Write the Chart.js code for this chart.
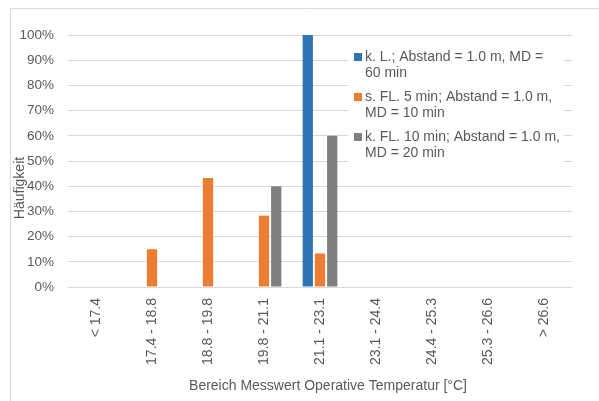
<!DOCTYPE html>
<html>
<head>
<meta charset="utf-8">
<script src="https://cdn.jsdelivr.net/npm/chart.js@4/dist/chart.umd.min.js"></script>
<style>
  html, body { margin: 0; padding: 0; background: #fff; }
  #wrap { position: relative; width: 599px; height: 401px; }
</style>
</head>
<body>
<div id="wrap"><canvas id="chart" width="599" height="401"></canvas></div>
<script>
// ===============================
// DATA
// ===============================
const categories = ['< 17.4', '17.4 - 18.8', '18.8 - 19.8', '19.8 - 21.1', '21.1 - 23.1',
                    '23.1 - 24.4', '24.4 - 25.3', '25.3 - 26.6', '> 26.6'];

const kLValues    = [0, 0, 0, 0, 100, 0, 0, 0, 0];
const sFL5Values  = [0, 15.0, 43.3, 28.3, 13.3, 0, 0, 0, 0];
const kFL10Values = [0, 0, 0, 40, 60, 0, 0, 0, 0];

// legend lines as wrapped in the original
const kLLabel    = ['k. L.; Abstand = 1.0 m, MD =', '60 min'];
const sFL5Label  = ['s. FL. 5 min; Abstand = 1.0 m,', 'MD = 10 min'];
const kFL10Label = ['k. FL. 10 min; Abstand = 1.0 m,', 'MD = 20 min'];

const yTicks = [0, 10, 20, 30, 40, 50, 60, 70, 80, 90, 100];

const xTitle = 'Bereich Messwert Operative Temperatur [°C]';
const yTitle = 'Häufigkeit';

const FONT = '"Liberation Sans", Arial, sans-serif';
const TEXT = '#595959';

// ===============================
// custom legend + axis titles + outer frame
// ===============================
const decoPlugin = {
    id: 'deco',
    beforeDraw(chart) {
        const ctx = chart.ctx;
        ctx.save();
        ctx.strokeStyle = '#d9d9d9';
        ctx.lineWidth = 1;
        ctx.beginPath();
        ctx.moveTo(10.5, 401);
        ctx.lineTo(10.5, 8.5);
        ctx.lineTo(599, 8.5);
        ctx.stroke();
        ctx.restore();
    },
    afterDraw(chart) {
        const ctx = chart.ctx;
        ctx.save();

        // titles
        ctx.fillStyle = TEXT;
        ctx.font = '14px ' + FONT;
        ctx.textAlign = 'center';
        ctx.textBaseline = 'middle';
        ctx.fillText(xTitle, 328, 386);

        ctx.save();
        ctx.translate(20, 188);
        ctx.rotate(-Math.PI / 2);
        ctx.fillText(yTitle, 0, 0);
        ctx.restore();

        // legend
        ctx.fillStyle = '#ffffff';
        ctx.fillRect(348, 40, 216, 135);

        ctx.textAlign = 'left';
        ctx.textBaseline = 'alphabetic';
        chart.data.datasets.forEach((ds, i) => {
            const base = 61 + i * 40;
            ctx.fillStyle = ds.backgroundColor;
            ctx.fillRect(354, base - 8, 8, 8);
            ctx.fillStyle = TEXT;
            ds.legendLines.forEach((line, j) => {
                ctx.fillText(line, 365, base + j * 15.5);
            });
        });
        ctx.restore();
    }
};

function makeSet(lines, values, color) {
    return {
        label: lines.join(' '),
        legendLines: lines,
        data: values,
        backgroundColor: color,
        borderWidth: 0,
        categoryPercentage: 0.655,
        barPercentage: 0.84
    };
}

let mainChartInstance = null;

function initChart() {
    const ctxMain = document.getElementById('chart');

    mainChartInstance = new Chart(ctxMain, {
        type: 'bar',
        data: {
            labels: categories,
            datasets: [
                makeSet(kLLabel, kLValues, '#2e75b6'),
                makeSet(sFL5Label, sFL5Values, '#ed7d31'),
                makeSet(kFL10Label, kFL10Values, '#7f7f7f')
            ]
        },
        options: {
            responsive: false,
            animation: false,
            devicePixelRatio: 1,
            layout: { padding: { left: 10, top: 35, right: 27, bottom: 0 } },
            plugins: {
                legend: { display: false },
                tooltip: { enabled: false }
            },
            scales: {
                x: {
                    grid: { display: false },
                    border: { display: false },
                    ticks: {
                        color: TEXT,
                        font: { family: FONT, size: 14 },
                        minRotation: 90,
                        maxRotation: 90,
                        autoSkip: false,
                        padding: 3
                    },
                    afterFit(s) { s.height = 114; }
                },
                y: {
                    min: 0,
                    max: 100,
                    afterBuildTicks(s) { s.ticks = yTicks.map(v => ({ value: v })); },
                    grid: { color: '#d9d9d9', drawTicks: false },
                    border: { display: false },
                    ticks: {
                        color: TEXT,
                        font: { family: FONT, size: 13.5 },
                        padding: 14,
                        callback: v => v + '%'
                    },
                    afterFit(s) { s.width = 58; }
                }
            }
        },
        plugins: [decoPlugin]
    });
}

document.addEventListener('DOMContentLoaded', () => {
    initChart();
});
</script>
</body>
</html>
